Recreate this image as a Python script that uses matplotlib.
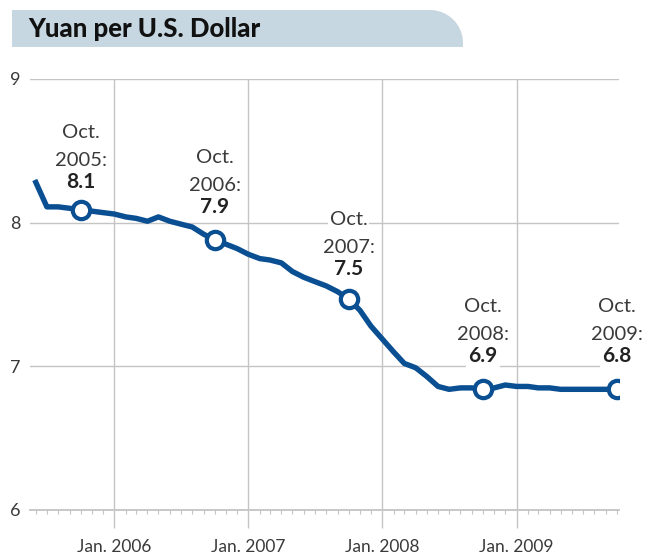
import matplotlib.pyplot as plt
import matplotlib.dates as mdates
from matplotlib.path import Path
from matplotlib.patches import PathPatch
import numpy as np
import pandas as pd

# monthly yuan per US dollar, Jun 2005 - Oct 2009
months = pd.date_range('2005-06-01', '2009-10-01', freq='MS')
yuan = [8.28, 8.11, 8.11, 8.10, 8.09, 8.08, 8.07,
        8.06, 8.04, 8.03, 8.01, 8.04, 8.01, 7.99, 7.97, 7.92, 7.88, 7.85, 7.82,
        7.78, 7.75, 7.74, 7.72, 7.66, 7.62, 7.59, 7.56, 7.52, 7.47, 7.39, 7.28,
        7.19, 7.10, 7.02, 6.99, 6.93, 6.86, 6.84, 6.85, 6.85, 6.84, 6.85, 6.87,
        6.86, 6.86, 6.85, 6.85, 6.84, 6.84, 6.84, 6.84, 6.84, 6.84]

marker_idx = [4, 16, 28, 40, 52]
marker_years = ['2005:', '2006:', '2007:', '2008:', '2009:']
marker_values = ['8.1', '7.9', '7.5', '6.9', '6.8']
label_offset = [22, 27, 24, 27, 27]  # px above marker

year_ticks = pd.to_datetime(['2006-01-01', '2007-01-01', '2008-01-01', '2009-01-01'])
year_labels = ['Jan. 2006', 'Jan. 2007', 'Jan. 2008', 'Jan. 2009']
y_ticks = [6, 7, 8, 9]

plt.rcParams['font.family'] = ['Lato', 'DejaVu Sans']

W, H = 658, 560
fig = plt.figure(figsize=(W / 100, H / 100), dpi=100)
ax = fig.add_axes([30 / W, 1 - 510 / H, 589 / W, 431 / H])

grid = '#c4c4c4'
blue = '#0b4f93'
txt = '#3a3a3a'

ax.plot(months, yuan, color=blue, lw=3.9, solid_joinstyle='round', zorder=3)
ax.plot(months[marker_idx], [yuan[i] for i in marker_idx], 'o', ms=12.5,
        mfc='white', mec=blue, mew=3.0, zorder=4)

ax.set_ylim(6, 9)
ax.set_xlim(pd.Timestamp('2005-05-16'), pd.Timestamp('2009-10-07'))

ax.set_yticks(y_ticks)
ax.set_yticklabels([str(v) for v in y_ticks])
ax.set_xticks(year_ticks)
ax.set_xticklabels(year_labels)
ax.xaxis.set_minor_locator(mdates.MonthLocator())

for s in ['top', 'right', 'left']:
    ax.spines[s].set_visible(False)
ax.spines['bottom'].set_color(grid)
ax.spines['bottom'].set_linewidth(1.3)

ax.grid(True, color=grid, lw=1.0, zorder=0)
ax.set_axisbelow(True)
ax.tick_params(axis='y', length=0, pad=7, labelsize=13, labelcolor=txt)
ax.tick_params(axis='x', which='major', length=13, width=1.0, color=grid,
               pad=8, labelsize=12.5, labelcolor=txt)
ax.tick_params(axis='x', which='minor', length=3, width=0.8, color=grid)

# annotations
bb = dict(boxstyle='square,pad=0.1', fc='white', ec='none')
for i, yr, val, off in zip(marker_idx, marker_years, marker_values, label_offset):
    xy = (months[i], yuan[i])
    ax.annotate(val, xy, xytext=(0, off), textcoords='offset pixels',
                ha='center', va='baseline', fontsize=15, fontweight='bold',
                color='#222222', bbox=bb, zorder=5, annotation_clip=False)
    ax.annotate(yr, xy, xytext=(0, off + 22), textcoords='offset pixels',
                ha='center', va='baseline', fontsize=14.5,
                color=txt, bbox=bb, zorder=5, annotation_clip=False)
    ax.annotate('Oct.', xy, xytext=(0, off + 50), textcoords='offset pixels',
                ha='center', va='baseline', fontsize=14.5,
                color=txt, bbox=bb, zorder=5, annotation_clip=False)

# title banner with rounded top-right corner
l, r, t, b, rad = 12, 463, 10, 47, 33
ang = np.linspace(np.pi / 2, 0, 20)
pts = [(l, b), (l, t), (r - rad, t)]
pts += [(r - rad + rad * np.cos(a), t + rad - rad * np.sin(a)) for a in ang]
pts += [(r, b), (l, b)]
pts = [(px / W, 1 - py / H) for px, py in pts]
fig.patches.append(PathPatch(Path(pts), fc='#c7d7e2', ec='none',
                             transform=fig.transFigure, zorder=0))
fig.text(28 / W, 1 - 37 / H, 'Yuan per U.S. Dollar', fontsize=18.5,
         fontweight='black', color='#111111', va='baseline', ha='left')

fig.savefig('out.png', dpi=100)
